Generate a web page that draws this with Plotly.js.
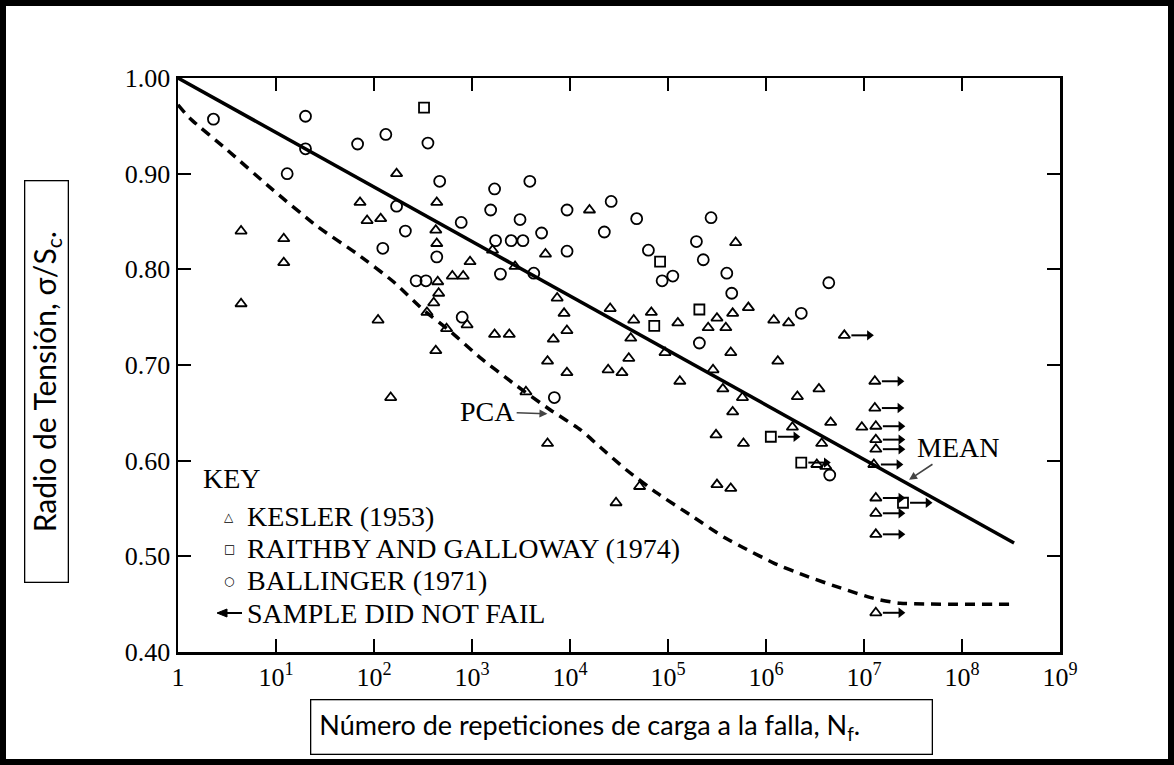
<!DOCTYPE html>
<html>
<head>
<meta charset="utf-8">
<script src="https://cdn.plot.ly/plotly-3.0.1.min.js"></script>
<style>
html,body{margin:0;padding:0;background:#fff;}
#chart{width:1174px;height:765px;}
</style>
</head>
<body>
<div id="chart"></div>
<script>
// ---- DATA ----
// KESLER (1953) – failed specimens
const kesN = [4.4, 4.4, 12, 12, 72, 85, 117, 110, 148, 170, 437, 427, 437, 447, 457, 407, 347, 427, 550, 630, 813, 955,
  891, 1620, 2750, 1700, 2400, 3550, 5620, 7400, 8700, 9300, 6760, 5900, 9300, 5900, 15800, 25700, 44700, 67600,
  41700, 39800, 24500, 33900, 93300, 126000, 132000, 316000, 257000, 389000, 457000, 437000, 490000, 288000,
  363000, 575000, 457000, 309000, 589000, 51300, 29500, 316000, 437000, 661000, 1200000, 1700000, 1320000,
  2090000, 3470000, 4570000, 1860000, 3700000, 3300000, 4070000, 9500000];
const kesV = [0.840, 0.764, 0.832, 0.807, 0.870, 0.851, 0.853, 0.747, 0.666, 0.900, 0.870, 0.841, 0.827, 0.787, 0.775, 0.765, 0.755, 0.715, 0.738, 0.793, 0.793, 0.808,
  0.742, 0.820, 0.803, 0.732, 0.732, 0.672, 0.816, 0.770, 0.754, 0.736, 0.727, 0.704, 0.692, 0.618, 0.862, 0.759, 0.747, 0.755,
  0.728, 0.707, 0.695, 0.692, 0.713, 0.744, 0.683, 0.749, 0.739, 0.739, 0.754, 0.713, 0.828, 0.695,
  0.675, 0.666, 0.651, 0.627, 0.618, 0.573, 0.556, 0.575, 0.571, 0.760, 0.747, 0.744, 0.704,
  0.667, 0.675, 0.640, 0.635, 0.618, 0.596, 0.594, 0.635];
// KESLER (1953) – samples that did not fail
const kesRunN = [6300000, 12900000, 12900000, 13200000, 13200000, 13200000, 12600000, 13200000, 13200000, 13200000, 13200000];
const kesRunV = [0.731, 0.683, 0.655, 0.636, 0.622, 0.612, 0.596, 0.561, 0.545, 0.523, 0.441];
// RAITHBY AND GALLOWAY (1974)
const raiN = [324, 83000, 72400, 209000];
const raiV = [0.969, 0.808, 0.741, 0.758];
const raiRunN = [1120000, 2290000, 25000000];
const raiRunV = [0.625, 0.598, 0.556];
// BALLINGER (1971)
const balN = [2.3, 20, 20, 13, 68, 132, 355, 468, 170, 209, 123, 437, 269, 339, 794, 1700, 3890, 1550, 776, 3090, 9330,
  26300, 47900, 275000, 5130, 22400, 1740, 2510, 3310, 9330, 63100, 195000, 229000, 1950, 4270, 87100, 112000,
  398000, 447000, 209000, 6920, 4370000, 2290000, 4470000];
const balV = [0.957, 0.960, 0.926, 0.900, 0.931, 0.941, 0.932, 0.892, 0.866, 0.840, 0.822, 0.813, 0.788, 0.788, 0.750, 0.884, 0.892, 0.862, 0.849, 0.852, 0.862,
  0.871, 0.853, 0.854, 0.838, 0.839, 0.830, 0.830, 0.830, 0.819, 0.820, 0.829, 0.810, 0.795, 0.796, 0.788, 0.793,
  0.796, 0.775, 0.723, 0.666, 0.786, 0.754, 0.585];
// MEAN line
const meanN = [1, 340000000];
const meanV = [1.00, 0.514];
// PCA curve
const pcaN = [1, 1.32, 3.16, 9.3, 26.3, 67.6, 158, 316, 603, 1200, 2630, 6310, 12900, 20400, 38000, 77600, 170000,
  372000, 589000, 1200000, 2630000, 5750000, 12600000, 23400000, 340000000];
const pcaV = [0.972, 0.958, 0.925, 0.883, 0.845, 0.816, 0.787, 0.758, 0.735, 0.708, 0.681, 0.653, 0.632, 0.614, 0.590,
  0.566, 0.543, 0.520, 0.509, 0.493, 0.479, 0.467, 0.456, 0.451, 0.450];
// Tick labels
const xTickVals = [1, 1e1, 1e2, 1e3, 1e4, 1e5, 1e6, 1e7, 1e8, 1e9];
const xTickText = ['1', '10<sup>1</sup>', '10<sup>2</sup>', '10<sup>3</sup>', '10<sup>4</sup>', '10<sup>5</sup>',
  '10<sup>6</sup>', '10<sup>7</sup>', '10<sup>8</sup>', '10<sup>9</sup>'];
const yTickVals = [0.40, 0.50, 0.60, 0.70, 0.80, 0.90, 1.00];
const yTickText = ['0.40', '0.50', '0.60', '0.70', '0.80', '0.90', '1.00'];
// Texts
const keyTitle = 'KEY';
const keyNames = ['KESLER (1953)', 'RAITHBY AND GALLOWAY (1974)', 'BALLINGER (1971)', 'SAMPLE DID NOT FAIL'];
const keySymbols = ['△', '□', '○'];
const yTitle = 'Radio de Tensión, σ/S<sub>c</sub>.';
const xTitle = 'Número de repeticiones de carga a la falla, N<sub>f</sub>.';

// ---- LAYOUT GEOMETRY ----
const W = 1174, H = 765;
const M = {l: 178, r: 114, t: 78, b: 113};
const PW = W - M.l - M.r, PH = H - M.t - M.b;
const px = x => (x - M.l) / PW;
const py = y => (H - M.b - y) / PH;
const serif = 'Liberation Serif, Times New Roman, serif';
const sans = 'Lato, Open Sans, sans-serif';
const black = 'black';

const mk = (sym, size) => ({symbol: sym, size: size, color: black, line: {color: black, width: 1.8}});

// run-out arrows built from the run-out data
const runN = kesRunN.concat(raiRunN), runV = kesRunV.concat(raiRunV);
const shaftX = [], shaftY = [], headX = [], headY = [];
runN.forEach((n, i) => {
  shaftX.push(n * 1.18, n * 1.8, null); shaftY.push(runV[i], runV[i], null);
  headX.push(n * 1.8); headY.push(runV[i]);
});

const traces = [
  {x: meanN, y: meanV, type: 'scatter', mode: 'lines', showlegend: false, hoverinfo: 'skip',
   line: {color: black, width: 3.5}},
  {x: pcaN, y: pcaV, type: 'scatter', mode: 'lines', showlegend: false, hoverinfo: 'skip',
   line: {color: black, width: 3.5, dash: '10px,7px', shape: 'spline', smoothing: 0.6}},
  {x: shaftX, y: shaftY, type: 'scatter', mode: 'lines', showlegend: false, hoverinfo: 'skip',
   line: {color: black, width: 2}},
  {x: headX, y: headY, type: 'scatter', mode: 'markers', showlegend: false, hoverinfo: 'skip',
   marker: {symbol: 'triangle-right', size: 9, color: black}},
  {x: kesN.concat(kesRunN), y: kesV.concat(kesRunV), type: 'scatter', mode: 'markers', name: keyNames[0],
   showlegend: false, marker: mk('triangle-up-open', 10)},
  {x: raiN.concat(raiRunN), y: raiV.concat(raiRunV), type: 'scatter', mode: 'markers', name: keyNames[1],
   showlegend: false, marker: mk('square-open', 10)},
  {x: balN, y: balV, type: 'scatter', mode: 'markers', name: keyNames[2],
   showlegend: false, marker: mk('circle-open', 11)}
];

const tfont = (size, fam) => ({family: fam || serif, size: size, color: black});
const annotations = [
  {x: 3.77, y: 0.649, ax: 3.16, ay: 0.651, xref: 'x', yref: 'y', axref: 'x', ayref: 'y', text: 'PCA',
   font: tfont(28), showarrow: true, arrowhead: 2, arrowwidth: 1.6, arrowsize: 1},
  {x: 7.46, y: 0.58, ax: 7.96, ay: 0.614, xref: 'x', yref: 'y', axref: 'x', ayref: 'y', text: 'MEAN',
   font: tfont(28), showarrow: true, arrowhead: 2, arrowwidth: 1.6, arrowsize: 1},
  // Key
  {x: px(201), y: py(478), xref: 'paper', yref: 'paper', xanchor: 'left', yanchor: 'middle', text: keyTitle,
   font: tfont(28), showarrow: false},
  // axis titles (boxed)
  {x: px(46), y: py(382), xref: 'paper', yref: 'paper', xanchor: 'center', yanchor: 'middle', text: yTitle,
   textangle: -90, showarrow: false, font: tfont(30, sans), bordercolor: black, borderwidth: 1.3, borderpad: 3,
   width: 394, height: 36, bgcolor: 'white'},
  {x: px(310), y: py(727), xref: 'paper', yref: 'paper', xanchor: 'left', yanchor: 'middle', text: xTitle,
   align: 'left', showarrow: false, font: tfont(27, sans), bordercolor: black, borderwidth: 1.3, borderpad: 8,
   width: 604, height: 37, bgcolor: 'white'}
];
const rowY = [516, 548, 580];
keyNames.forEach((name, i) => {
  const yy = i < 3 ? rowY[i] : 613;
  annotations.push({x: px(245), y: py(yy), xref: 'paper', yref: 'paper', xanchor: 'left', yanchor: 'middle',
    text: name, font: tfont(28), showarrow: false});
  if (i < 3) {
    annotations.push({x: px(229), y: py(yy + 1), xref: 'paper', yref: 'paper', xanchor: 'center', yanchor: 'middle',
      text: keySymbols[i], font: {family: 'DejaVu Sans', size: 12, color: black}, showarrow: false});
  }
});

const axisCommon = {
  showline: true, linecolor: black, linewidth: 2.5, mirror: 'ticks', ticks: 'inside', ticklen: 13,
  tickwidth: 2, tickcolor: black, showgrid: false, zeroline: false, tickfont: tfont(26)
};

const layout = {
  width: W, height: H, margin: M, paper_bgcolor: 'white', plot_bgcolor: 'white', showlegend: false,
  xaxis: Object.assign({}, axisCommon, {type: 'log', range: [0, 9], tickvals: xTickVals, ticktext: xTickText}),
  yaxis: Object.assign({}, axisCommon, {range: [0.40, 1.00], tickvals: yTickVals, ticktext: yTickText}),
  annotations: annotations,
  shapes: [
    {type: 'rect', xref: 'paper', yref: 'paper', x0: px(3), x1: px(1171), y0: py(3), y1: py(762),
     line: {color: black, width: 6}, layer: 'above'},
    // key arrow for "sample did not fail"
    {type: 'line', xref: 'paper', yref: 'paper', x0: px(218), x1: px(242), y0: py(613), y1: py(613),
     line: {color: black, width: 2}},
    {type: 'path', xref: 'paper', yref: 'paper',
     path: 'M ' + px(217) + ' ' + py(613) + ' L ' + px(227) + ' ' + py(609) + ' L ' + px(227) + ' ' + py(617) + ' Z',
     fillcolor: black, line: {color: black, width: 1}}
  ]
};

Plotly.newPlot('chart', traces, layout, {displayModeBar: false, staticPlot: true});
</script>
</body>
</html>
